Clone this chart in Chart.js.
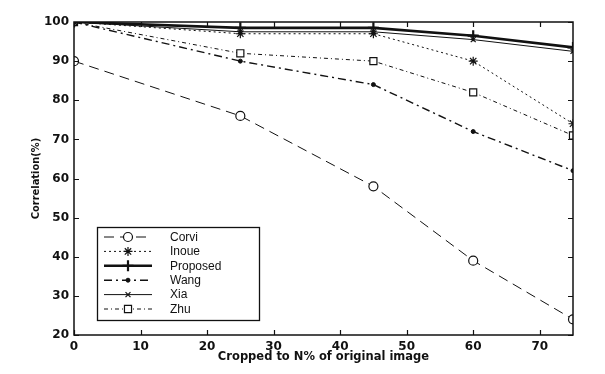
<!DOCTYPE html>
<html>
<head>
<meta charset="utf-8">
<script src="https://cdn.jsdelivr.net/npm/chart.js@4/dist/chart.umd.min.js"></script>
<style>
html,body{margin:0;padding:0;background:#fff;}
#wrap{width:605px;height:374px;position:relative;}
</style>
</head>
<body>
<div id="wrap"><canvas id="c" width="605" height="374"></canvas></div>
<script>
// ---- data ----
const xValues = [0, 25, 45, 60, 75];
const corvi    = [90, 76, 58, 39, 24];
const inoue    = [100, 97, 97, 90, 74];
const proposed = [100, 98.5, 98.5, 96.5, 93.5];
const wang     = [100, 90, 84, 72, 62];
const xia      = [100, 97.5, 97.5, 95.5, 92.5];
const zhu      = [100, 92, 90, 82, 71];
const seriesNames = ['Corvi', 'Inoue', 'Proposed', 'Wang', 'Xia', 'Zhu'];
const xTicks = [0, 10, 20, 30, 40, 50, 60, 70];
const yTicks = [20, 30, 40, 50, 60, 70, 80, 90, 100];
const xTitle = 'Cropped to N% of original image';
const yTitle = 'Correlation(%)';

const INK = '#111';
const pts = arr => xValues.map((x, i) => ({x: x, y: arr[i]}));

const styles = [
  {borderWidth: 1, borderDash: [10, 6], pointStyle: 'circle', pointRadius: 4.5, bg: '#fff', pbw: 1.2},
  {borderWidth: 1, borderDash: [2, 3], pointStyle: 'star', pointRadius: 4.5, bg: INK, pbw: 1.2},
  {borderWidth: 2.6, borderDash: [], pointStyle: 'cross', pointRadius: 5.5, bg: INK, pbw: 2.2},
  {borderWidth: 1.4, borderDash: [8, 4, 2, 4], pointStyle: 'circle', pointRadius: 2, bg: INK, pbw: 1},
  {borderWidth: 1, borderDash: [], pointStyle: 'crossRot', pointRadius: 3.5, bg: INK, pbw: 1.2},
  {borderWidth: 1, borderDash: [4, 3, 1, 3], pointStyle: 'rect', pointRadius: 5, bg: '#fff', pbw: 1.2}
];
const seriesData = [corvi, inoue, proposed, wang, xia, zhu];

const datasets = seriesNames.map((name, i) => ({
  label: name,
  data: pts(seriesData[i]),
  borderColor: INK,
  borderWidth: styles[i].borderWidth,
  borderDash: styles[i].borderDash,
  pointStyle: styles[i].pointStyle,
  pointRadius: styles[i].pointRadius,
  pointBorderWidth: styles[i].pbw,
  pointBorderColor: INK,
  pointBackgroundColor: styles[i].bg,
  tension: 0,
  fill: false
}));

// box + inward ticks (MATLAB style)
const boxPlugin = {
  id: 'boxPlugin',
  afterDraw(chart) {
    const {ctx, chartArea: a, scales} = chart;
    ctx.save();
    ctx.strokeStyle = INK;
    ctx.lineWidth = 1.5;
    ctx.setLineDash([]);
    ctx.strokeRect(a.left, a.top, a.right - a.left, a.bottom - a.top);
    ctx.lineWidth = 1.2;
    const L = 5;
    ctx.beginPath();
    xTicks.forEach(v => {
      const px = Math.round(scales.x.getPixelForValue(v)) + 0.5;
      ctx.moveTo(px, a.bottom); ctx.lineTo(px, a.bottom - L);
      ctx.moveTo(px, a.top); ctx.lineTo(px, a.top + L);
    });
    yTicks.forEach(v => {
      const py = Math.round(scales.y.getPixelForValue(v)) + 0.5;
      ctx.moveTo(a.left, py); ctx.lineTo(a.left + L, py);
      ctx.moveTo(a.right, py); ctx.lineTo(a.right - L, py);
    });
    ctx.stroke();
    ctx.restore();
  }
};

// legend inside the plot (lower left)
const legendPlugin = {
  id: 'inLegend',
  afterDraw(chart) {
    const {ctx} = chart;
    const bx = 97, by = 227, bw = 162, bh = 93;
    ctx.save();
    ctx.fillStyle = '#fff';
    ctx.fillRect(bx, by, bw, bh);
    ctx.strokeStyle = INK;
    ctx.lineWidth = 1.3;
    ctx.setLineDash([]);
    ctx.strokeRect(bx + 0.5, by + 0.5, bw, bh);
    const rowH = 14.4;
    seriesNames.forEach((name, i) => {
      const y = by + 10 + i * rowH;
      const s = styles[i];
      ctx.beginPath();
      ctx.setLineDash(s.borderDash);
      ctx.lineWidth = s.borderWidth;
      ctx.strokeStyle = INK;
      ctx.moveTo(104, y); ctx.lineTo(152, y);
      ctx.stroke();
      ctx.setLineDash([]);
      ctx.fillStyle = s.bg;
      ctx.strokeStyle = INK;
      ctx.lineWidth = s.pbw;
      Chart.helpers.drawPoint(ctx, {pointStyle: s.pointStyle, rotation: 0, radius: s.pointRadius, borderWidth: s.pbw}, 128, y);
      ctx.fillStyle = INK;
      ctx.font = '12px "Liberation Sans", Arial, sans-serif';
      ctx.textBaseline = 'middle';
      ctx.textAlign = 'left';
      ctx.fillText(name, 170, y + 0.5);
    });
    ctx.restore();
  }
};

new Chart(document.getElementById('c'), {
  type: 'line',
  data: {datasets: datasets},
  options: {
    responsive: false,
    animation: false,
    events: [],
    layout: {padding: {left: 26, right: 32, top: 22, bottom: 10}},
    plugins: {legend: {display: false}, tooltip: {enabled: false}},
    scales: {
      x: {
        type: 'linear',
        min: 0, max: 75,
        afterBuildTicks: s => { s.ticks = xTicks.map(v => ({value: v})); },
        afterFit: s => { s.height = 29; },
        grid: {display: false, drawTicks: false},
        border: {display: false},
        ticks: {color: INK, padding: 5, maxRotation: 0, autoSkip: false,
                font: {family: '"DejaVu Sans", sans-serif', size: 12, weight: 'bold'}},
        title: {display: true, text: xTitle, color: INK, padding: {top: 0, bottom: 0},
                font: {family: '"DejaVu Sans", sans-serif', size: 11.5, weight: 'bold'}}
      },
      y: {
        type: 'linear',
        min: 20, max: 100,
        afterBuildTicks: s => { s.ticks = yTicks.map(v => ({value: v})); },
        afterFit: s => { s.width = 48; },
        grid: {display: false, drawTicks: false},
        border: {display: false},
        ticks: {color: INK, padding: 5, autoSkip: false,
                font: {family: '"DejaVu Sans", sans-serif', size: 12, weight: 'bold'}},
        title: {display: true, text: yTitle, color: INK, padding: {top: 4, bottom: 0},
                font: {family: '"DejaVu Sans Condensed", "DejaVu Sans", sans-serif', size: 11, weight: 'bold'}}
      }
    }
  },
  plugins: [boxPlugin, legendPlugin]
});
</script>
</body>
</html>
